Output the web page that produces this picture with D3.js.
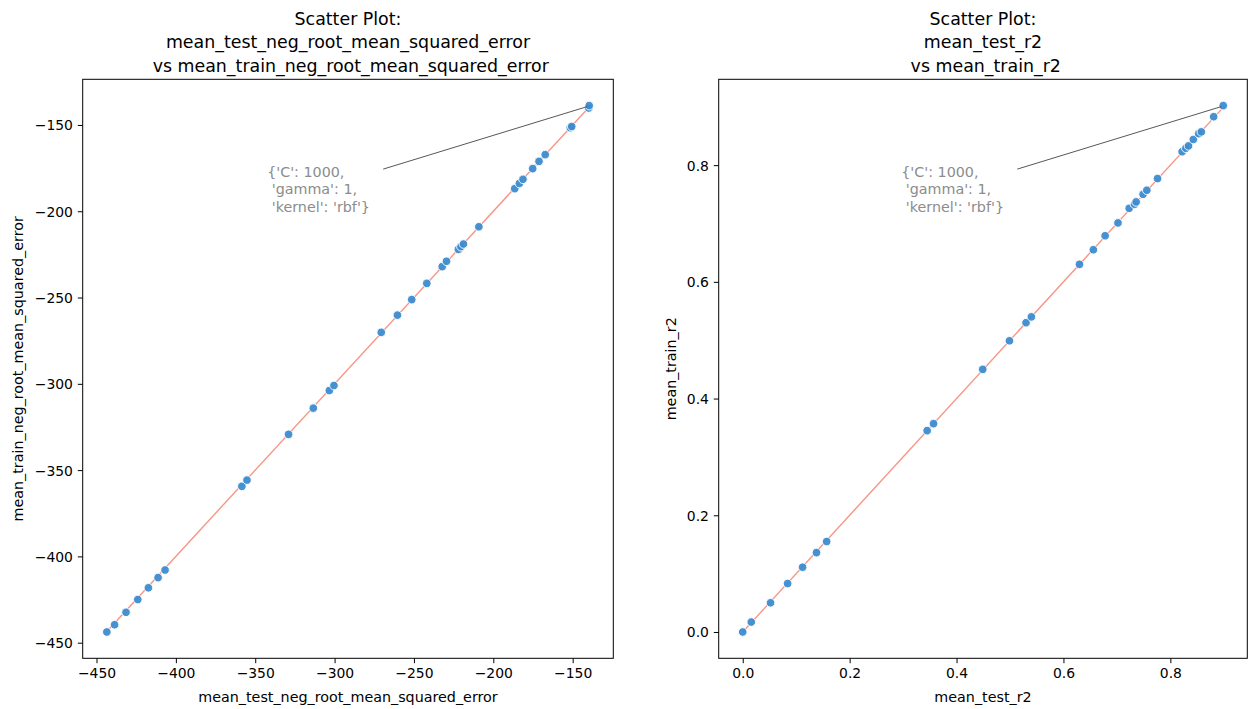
<!DOCTYPE html>
<html>
<head>
<meta charset="utf-8">
<script src="https://cdn.jsdelivr.net/npm/d3@7"></script>
<style>
  body { margin: 0; background: #fff; }
  svg { display: block; font-family: "DejaVu Sans", sans-serif; }
</style>
</head>
<body>
<svg id="chart" width="1251" height="709"></svg>
<script>
// ---- data ----
const testRmse = [-443.5, -438.6, -431.4, -424.0, -417.3, -411.2, -406.8, -358.4, -355.2, -329.0, -313.4, -303.3, -300.4, -270.6, -260.4, -251.4, -241.9, -232.2, -229.5, -222.0, -220.4, -218.8, -209.1, -186.5, -183.6, -181.3, -175.2, -171.2, -167.3, -151.5, -150.6, -139.9, -139.6];
const trainRmse = [-443.8, -439.6, -432.4, -425.0, -418.2, -412.3, -407.9, -359.4, -355.8, -329.3, -314.1, -303.9, -301.0, -270.2, -260.2, -251.2, -241.8, -232.1, -229.0, -222.1, -220.5, -219.0, -209.0, -186.9, -183.9, -181.5, -175.3, -171.1, -167.2, -151.6, -150.9, -140.2, -138.8];
const testR2 = [0.0, 0.016, 0.052, 0.084, 0.112, 0.138, 0.157, 0.345, 0.357, 0.449, 0.499, 0.530, 0.540, 0.630, 0.656, 0.678, 0.702, 0.723, 0.733, 0.736, 0.749, 0.756, 0.776, 0.822, 0.829, 0.834, 0.843, 0.853, 0.858, 0.881, 0.899];
const trainR2 = [0.0, 0.017, 0.050, 0.083, 0.111, 0.136, 0.155, 0.345, 0.357, 0.450, 0.499, 0.530, 0.540, 0.630, 0.655, 0.679, 0.701, 0.726, 0.733, 0.737, 0.750, 0.757, 0.777, 0.823, 0.829, 0.833, 0.844, 0.854, 0.857, 0.883, 0.902];
const rmseTicks = [-450, -400, -350, -300, -250, -200, -150];
const r2Ticks = [0.0, 0.2, 0.4, 0.6, 0.8];
const annotationLines = ["{'C': 1000,", " 'gamma': 1,", " 'kernel': 'rbf'}"];

const panels = [
  { title: ["Scatter Plot:", "mean_test_neg_root_mean_squared_error", " vs mean_train_neg_root_mean_squared_error"],
    xs: testRmse, ys: trainRmse, ticks: rmseTicks, fmt: d3.format("d"),
    xlabel: "mean_test_neg_root_mean_squared_error", ylabel: "mean_train_neg_root_mean_squared_error",
    left: 82.7, right: 613.3, ylabelX: 18 },
  { title: ["Scatter Plot:", "mean_test_r2", " vs mean_train_r2"],
    xs: testR2, ys: trainR2, ticks: r2Ticks, fmt: d3.format(".1f"),
    xlabel: "mean_test_r2", ylabel: "mean_train_r2",
    left: 718.7, right: 1247.3, ylabelX: 671 }
];

const plotTop = 79.3, plotBottom = 658.3;
const svg = d3.select("#chart");
const FS = 13.9;
const LFS = 14.3;

function padded(arr) {
  const [a, b] = d3.extent(arr);
  const m = (b - a) * 0.05;
  return [a - m, b + m];
}

panels.forEach(p => {
  const g = svg.append("g");
  const x = d3.scaleLinear().domain(padded(p.xs)).range([p.left, p.right]);
  const y = d3.scaleLinear().domain(padded(p.ys)).range([plotBottom, plotTop]);
  const cx = (p.left + p.right) / 2;

  // title
  const t = g.append("text").attr("text-anchor", "middle").attr("font-size", 17.4)
    .attr("fill", "#000").style("white-space", "pre");
  p.title.forEach((line, i) => {
    t.append("tspan").attr("x", cx).attr("y", 24.5 + i * 23.5).text(line);
  });

  // identity line
  const [lo, hi] = [d3.min(p.xs), d3.max(p.xs)];
  g.append("line")
    .attr("x1", x(lo)).attr("y1", y(lo))
    .attr("x2", x(hi)).attr("y2", y(hi))
    .attr("stroke", "#f79585").attr("stroke-width", 1.4);

  // points
  const pts = p.xs.map((v, i) => ({ x: v, y: p.ys[i] }));
  g.append("g").selectAll("circle").data(pts).join("circle")
    .attr("cx", d => x(d.x)).attr("cy", d => y(d.y)).attr("r", 4.3)
    .attr("fill", "#3d8cd0").attr("stroke", "#fff").attr("stroke-width", 0.9)
    .attr("fill-opacity", 0.95);

  // annotation for best point
  const best = pts[d3.maxIndex(pts, d => d.x)];
  const bx = x(best.x), by = y(best.y);
  g.append("line")
    .attr("x1", bx - 206).attr("y1", by + 63.5)
    .attr("x2", bx - 2).attr("y2", by + 1)
    .attr("stroke", "#444").attr("stroke-width", 0.9);
  const at = g.append("text").attr("font-size", LFS).attr("fill", "#8c8c8c").style("white-space", "pre");
  annotationLines.forEach((line, i) => {
    at.append("tspan").attr("x", bx - 322).attr("y", by + 71 + i * 17.5).text(line);
  });

  // axes
  const xAxis = d3.axisBottom(x).tickValues(p.ticks).tickFormat(p.fmt)
    .tickSizeInner(4.9).tickSizeOuter(0).tickPadding(4.9);
  const yAxis = d3.axisLeft(y).tickValues(p.ticks).tickFormat(p.fmt)
    .tickSizeInner(4.9).tickSizeOuter(0).tickPadding(4.9);
  const gx = g.append("g").attr("transform", `translate(0,${plotBottom})`).call(xAxis);
  const gy = g.append("g").attr("transform", `translate(${p.left},0)`).call(yAxis);
  [gx, gy].forEach(a => {
    a.select(".domain").remove();
    a.selectAll("text").attr("font-size", FS).attr("fill", "#000").attr("font-family", "DejaVu Sans, sans-serif");
    a.selectAll("line").attr("stroke", "#000").attr("stroke-width", 1);
  });
  gy.selectAll("text").attr("dy", "0.36em");

  // frame
  g.append("rect").attr("x", p.left).attr("y", plotTop)
    .attr("width", p.right - p.left).attr("height", plotBottom - plotTop)
    .attr("fill", "none").attr("stroke", "#000").attr("stroke-width", 1);

  // axis labels
  g.append("text").attr("x", cx).attr("y", 702).attr("text-anchor", "middle")
    .attr("font-size", LFS).attr("fill", "#000").text(p.xlabel);
  g.append("text").attr("transform", `translate(${p.ylabelX},${(plotTop + plotBottom) / 2}) rotate(-90)`)
    .attr("text-anchor", "middle").attr("dominant-baseline", "central")
    .attr("font-size", LFS).attr("fill", "#000").text(p.ylabel);
});
</script>
</body>
</html>
